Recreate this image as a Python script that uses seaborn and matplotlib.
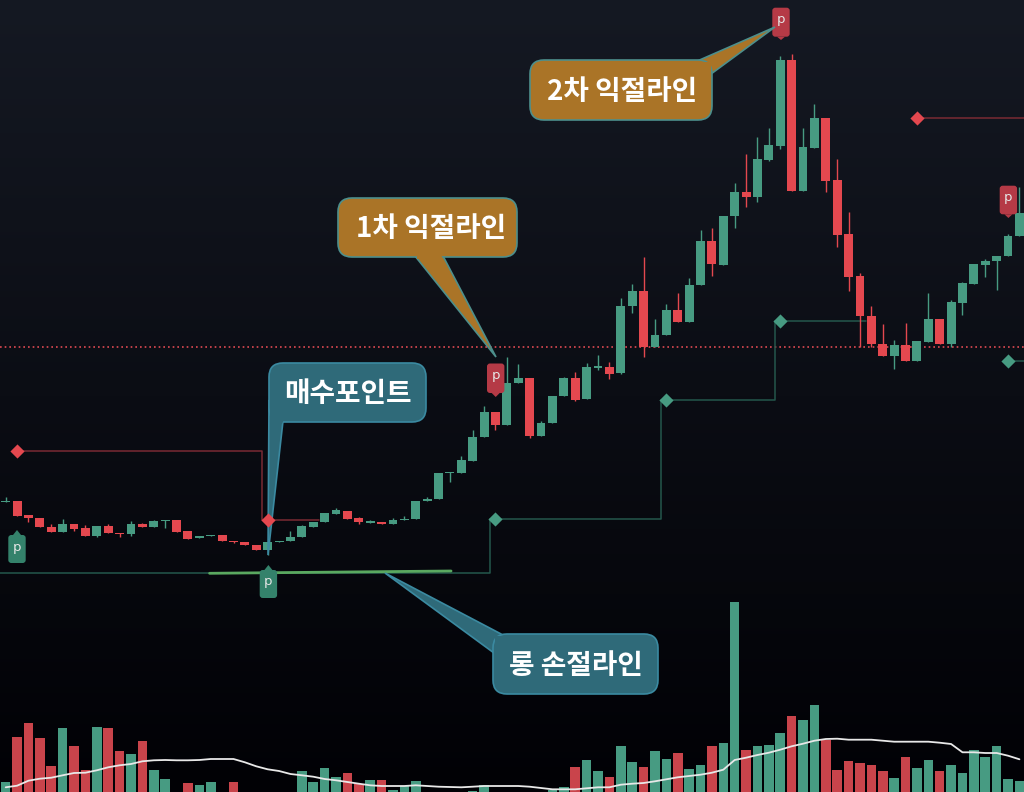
import matplotlib
matplotlib.use("Agg")
import matplotlib.pyplot as plt
from matplotlib.patches import FancyBboxPatch, Polygon
import numpy as np
import pandas as pd
import seaborn as sns

# candles, levels (axis runs downward like the screen)
body_top = [500.7, 501, 515.3, 518.3, 527, 524, 524, 528.3, 525.7, 525.7,
            532.7, 524, 524, 521, 520, 520.3, 531.3, 535.7, 535, 535,
            540.7, 541.7, 544.7, 541.7, 541, 536.7, 526, 521.7, 513.3, 510.3,
            510.7, 517.7, 521, 521.7, 519.7, 519, 501.3, 498.7, 473, 472,
            460.3, 436.7, 412.3, 412.3, 382.7, 378.3, 378.3, 422.7, 396, 378.3,
            378.3, 367.3, 366.3, 366.7, 306, 291, 291, 335, 310.3, 310.3,
            284.7, 241, 241, 215.7, 192.3, 192.3, 159.3, 144.7, 60, 60,
            147, 118.3, 118.3, 180.3, 234.3, 276.3, 315.7, 343.7, 345.3, 345.3,
            341.3, 319.3, 319.3, 302.3, 283, 263.7, 261, 255.7, 235.7, 213.3]
body_bottom = [502, 515.7, 518.3, 527.3, 532.3, 532.3, 528.7, 536.3, 536, 533.3,
               534, 534, 527.3, 527.3, 521.3, 531.7, 538.7, 538.3, 536.3, 541.3,
               542, 545, 550.3, 550.3, 542, 541.3, 537, 526.7, 522.3, 514,
               518.7, 522.3, 522.7, 523.7, 523.7, 520, 519, 501.3, 499, 473.3,
               472.7, 460.7, 437, 424.7, 424.7, 383.3, 435.7, 435.7, 423, 396.3,
               399.7, 399.3, 367.7, 373.7, 373.3, 306.3, 347, 347, 335.3, 322,
               322, 285, 264.3, 264.7, 216.3, 197, 197.3, 160.3, 145.7, 191.3,
               191.3, 147.7, 180.7, 234.7, 277, 316, 344, 356, 356, 361.3,
               361.3, 342, 344, 344.3, 303, 283.7, 264.7, 261.3, 256.3, 236.3]
wick_high = [497, 501, 515.3, 518.3, 524, 518.7, 524, 525, 525.7, 524,
             532.7, 521.3, 523, 520, 520, 520.3, 531.3, 535.7, 535, 535,
             540.7, 541.7, 544.7, 541.7, 541, 531.3, 525, 521.7, 513.3, 507.7,
             510.7, 517, 520, 521.7, 518, 516.3, 501.3, 497.3, 472.5, 472,
             456, 430, 406, 412.3, 357.3, 364, 378.3, 421, 396, 377.3,
             372.3, 362.7, 355, 362.3, 298.3, 284, 257.3, 319, 303.7, 293.3,
             278.3, 230, 228.3, 215.7, 183.3, 154, 136.7, 128, 56, 54.3,
             128.3, 104, 118.3, 159, 212.3, 272.7, 306, 324.3, 340, 323,
             341.3, 293.3, 319.3, 300.3, 282, 263.7, 259, 255.7, 234, 186.7]
wick_low = [502, 515.7, 522, 527.3, 532.3, 532.3, 530.7, 536.3, 537, 533.3,
            537.3, 535.7, 527.3, 527.3, 528.3, 531.7, 538.7, 538.3, 536.3, 541.3,
            543, 545, 550.3, 555.3, 542, 541.3, 537, 526.7, 522.3, 514,
            519.3, 523.7, 522.7, 523.7, 523.7, 520, 519, 501.3, 499, 481.7,
            472.7, 460.7, 437, 430, 424.7, 383.3, 438, 435.7, 423, 396.3,
            400.7, 399.3, 370, 379, 374, 312.7, 356.7, 347, 335.3, 322,
            322, 285, 275.7, 265, 228.3, 206.7, 202.3, 161, 149, 191.3,
            191.3, 147.7, 192, 247.3, 290.7, 346.7, 346.7, 356, 369.3, 361.3,
            361.3, 342, 344, 346.7, 315, 283.7, 276.7, 290.3, 256.3, 236.3]

# volume bars and their moving average
volume = [10.3, 54.7, 68.7, 53.7, 25.7, 64.3, 46.3, 22, 65, 63.7,
          40.7, 37.7, 50.7, 22, 13, 0, 8.7, 7.3, 9.7, 0,
          9.7, 0, 0, 0, 0, 0, 21.3, 9.7, 24.3, 14.7,
          18.7, 7.7, 12, 12, 2.3, 6.3, 11, 0, 0, 0,
          0, 1.3, 7.3, 0, 0, 0, 0, 0, 2, 5,
          25, 32.3, 21.3, 14.7, 45.7, 30.3, 25, 41.3, 33.3, 39,
          22.7, 27.3, 45.7, 49.3, 189.7, 42, 45.7, 47, 59, 76,
          71.7, 87, 52, 22, 30.7, 28.7, 27.3, 21.3, 14, 34.7,
          23.7, 31.7, 20.7, 26.7, 18.7, 42, 35.3, 45.7, 13.3, 11]
volume_ma = [4.7, 6.3, 11.3, 13.3, 14.3, 16.7, 19, 19.3, 21.7, 24.7,
             26.7, 28, 30.7, 31.7, 32, 31.7, 31.7, 32, 33, 33,
             33, 29.7, 25.7, 22.7, 21, 18, 16.7, 15.3, 13, 11.7,
             10, 8.3, 6.7, 6, 6, 6, 6.7, 6, 5.3, 5,
             4.7, 5.3, 6, 6, 6, 6, 5.3, 4, 2.7, 2.7,
             2.7, 3.7, 4.7, 4.7, 7.3, 8.3, 9, 10.7, 12.7, 14.7,
             16, 17.3, 19.3, 22.3, 32, 34.3, 37, 39.3, 42.3, 45.7,
             48.3, 51.3, 53, 53.3, 52.3, 52.3, 52.3, 51.3, 50.3, 50.3,
             50.3, 50.3, 49.3, 48, 39.7, 39.7, 39, 39, 36.3, 32.7]

# candle colours, by index
red_idx = [1, 2, 3, 4, 6, 7, 9, 10, 12, 15, 16, 19, 20, 21, 22, 30, 31, 33, 43, 46,
           50, 53, 56, 59, 62, 65, 69, 72, 73, 74, 75, 76, 77, 79, 82]

# stop / target steps
stop_x = [-0.5, 42.5, 42.5, 57.5, 57.5, 67.5, 67.5, 75.5]
stop_y = [572.5, 572.5, 519, 519, 400, 400, 321, 321]
stop2_x = [88, 90]
stop2_y = [361, 361]
target_x = [1, 22.5, 22.5, 27.5]
target_y = [451, 451, 520, 520]
target2_x = [80, 90]
target2_y = [118, 118]
highlight_x = [17.9, 39.1]
highlight_y = [573.3, 571]
dotted_level = 347
green_marks_x = [43, 58, 68, 88]
green_marks_y = [519, 400, 321, 361]
red_marks_x = [1, 80]
red_marks_y = [451, 118]

GREEN = "#479b82"
RED = "#e4484f"
VOL_RED = "#c9444b"

n = len(body_top)
df = pd.DataFrame({"i": np.arange(n), "top": body_top, "bottom": body_bottom,
                   "high": wick_high, "low": wick_low, "vol": volume, "ma": volume_ma})
df["dir"] = np.where(df["i"].isin(red_idx), "r", "g")
df["height"] = df["bottom"] - df["top"]

sns.set_theme(style="dark")
plt.rcParams["font.family"] = ["Noto Sans CJK KR", "DejaVu Sans"]

fig = plt.figure(figsize=(10.24, 7.92), dpi=100)

# background gradient
bg = fig.add_axes([0, 0, 1, 1])
grad = np.linspace(0, 1, 256)[:, None, None]
grad = (1 - grad) * np.array([0.082, 0.098, 0.137]) + grad * np.array([0.004, 0.004, 0.02])
bg.imshow(grad, aspect="auto", extent=[0, 1, 0, 1])
bg.axis("off")

xlim = (-0.5, 89.4)

# volume
ax_vol = fig.add_axes([0, 0, 1, 1], facecolor="none")
sns.barplot(data=df[df["vol"] > 0], x="i", y="vol", hue="dir", palette={"g": GREEN, "r": VOL_RED},
            native_scale=True, dodge=False, legend=False, width=0.84, saturation=1, orient="x",
            linewidth=0, ax=ax_vol)
sns.lineplot(data=df, x="i", y="ma", color="#e8e8e8", linewidth=1.3, ax=ax_vol)
ax_vol.set_xlim(xlim)
ax_vol.set_ylim(0, 792)
ax_vol.axis("off")

# price pane
ax = fig.add_axes([0, 0, 1, 1], facecolor="none")
ax.axhline(dotted_level, color="#e04a53", linewidth=1.2, linestyle=(0, (1, 1.8)), zorder=1)
ax.plot(stop_x, stop_y, color="#24574c", linewidth=1.1, zorder=1)
ax.plot(stop2_x, stop2_y, color="#24574c", linewidth=1.1, zorder=1)
ax.plot(target_x, target_y, color="#7a2a33", linewidth=1.1, zorder=1)
ax.plot(target2_x, target2_y, color="#7a2a33", linewidth=1.1, zorder=1)
ax.plot(highlight_x, highlight_y, color="#5aa860", linewidth=2, zorder=2)

for d, color in [("g", GREEN), ("r", RED)]:
    sub = df[df["dir"] == d]
    ax.vlines(sub["i"], sub["high"], sub["low"], color=color, linewidth=1, zorder=3)
    sns.barplot(data=sub, x="i", y="height", bottom=sub["top"].to_numpy(), color=color, saturation=1,
                native_scale=True, width=0.78, orient="x", linewidth=0, zorder=4, ax=ax)

sns.scatterplot(x=green_marks_x, y=green_marks_y, marker="D", color=GREEN, s=52, linewidth=0, zorder=5, ax=ax)
sns.scatterplot(x=red_marks_x, y=red_marks_y, marker="D", color=RED, s=52, linewidth=0, zorder=5, ax=ax)
ax.set_xlim(xlim)
ax.set_ylim(792, 0)
ax.axis("off")

# annotations in screen pixels
ov = fig.add_axes([0, 0, 1, 1], facecolor="none")
ov.set_xlim(0, 1024)
ov.set_ylim(792, 0)
ov.axis("off")


def badge(left, top, bottom, tip, color, text_y):
    w = 17.4
    ov.add_patch(FancyBboxPatch((left + 2, top + 2), w - 4, bottom - top - 4, boxstyle="round,pad=2,rounding_size=3",
                                facecolor=color, edgecolor="none", zorder=6))
    c = left + w / 2
    edge = bottom if tip > bottom else top
    ov.add_patch(Polygon([(c - 4, edge), (c + 4, edge), (c, tip)], facecolor=color, edgecolor="none", zorder=6))
    ov.text(c, text_y, "p", color="#e6e6e6", fontsize=9.5, ha="center", va="center",
            family="DejaVu Sans", zorder=7)


badge(8.3, 535, 563, 530, "#34826b", 547)
badge(259.7, 570, 598, 565, "#34826b", 582)
badge(487, 363.5, 393, 397, "#b53a46", 375)
badge(772.3, 7.7, 36.7, 40, "#b53a46", 19)
badge(999.7, 185.7, 214.3, 218, "#b53a46", 198)


def callout(x0, y0, x1, y1, tail, filler, label, face, edge, dx=0):
    ov.add_patch(Polygon(tail, closed=True, facecolor=face, edgecolor=edge, linewidth=1.2, zorder=8))
    ov.add_patch(FancyBboxPatch((x0 + 14, y0 + 14), x1 - x0 - 28, y1 - y0 - 28, boxstyle="round,pad=14,rounding_size=14",
                                facecolor=face, edgecolor=edge, linewidth=1.2, zorder=9))
    # hides the box outline where the tail joins it
    ov.add_patch(Polygon(filler, closed=True, facecolor=face, edgecolor="none", zorder=9.5))
    ov.text((x0 + x1) / 2 + dx, (y0 + y1) / 2 + 1.5, label, color="white", fontsize=20, fontweight="bold",
            ha="center", va="center", zorder=10)


TEAL = "#2f6a79"
TEAL_EDGE = "#3b8aa1"
GOLD = "#aa7427"
GOLD_EDGE = "#4d8f8c"
callout(269, 363, 426, 422, [(269, 400), (283, 421), (268, 555)],
        [(270, 405), (290, 405), (282, 424), (270, 424)], "매수포인트", TEAL, TEAL_EDGE)
callout(338, 198, 517, 257, [(415, 256), (443, 256), (496, 357)],
        [(417, 255), (441, 255), (443, 259), (417, 259)], "1차 익절라인", GOLD, GOLD_EDGE, dx=3.5)
callout(530, 60, 712, 120, [(695, 62), (775, 27), (711, 74)],
        [(695, 61.5), (711, 61.5), (711, 74), (695, 74)], "2차 익절라인", GOLD, GOLD_EDGE, dx=1)
callout(493, 634, 658, 694, [(385, 573), (503, 635), (494, 653)],
        [(494.5, 635.5), (505, 635.5), (505, 652), (494.5, 652)], "롱 손절라인", TEAL, TEAL_EDGE)

# entry marker sits on top of the callout tail
sns.scatterplot(x=[268], y=[520], marker="D", color=RED, s=52, linewidth=0, zorder=11, ax=ov)
ov.set_xlim(0, 1024)
ov.set_ylim(792, 0)
ov.axis("off")

fig.savefig("out.png", dpi=100)
